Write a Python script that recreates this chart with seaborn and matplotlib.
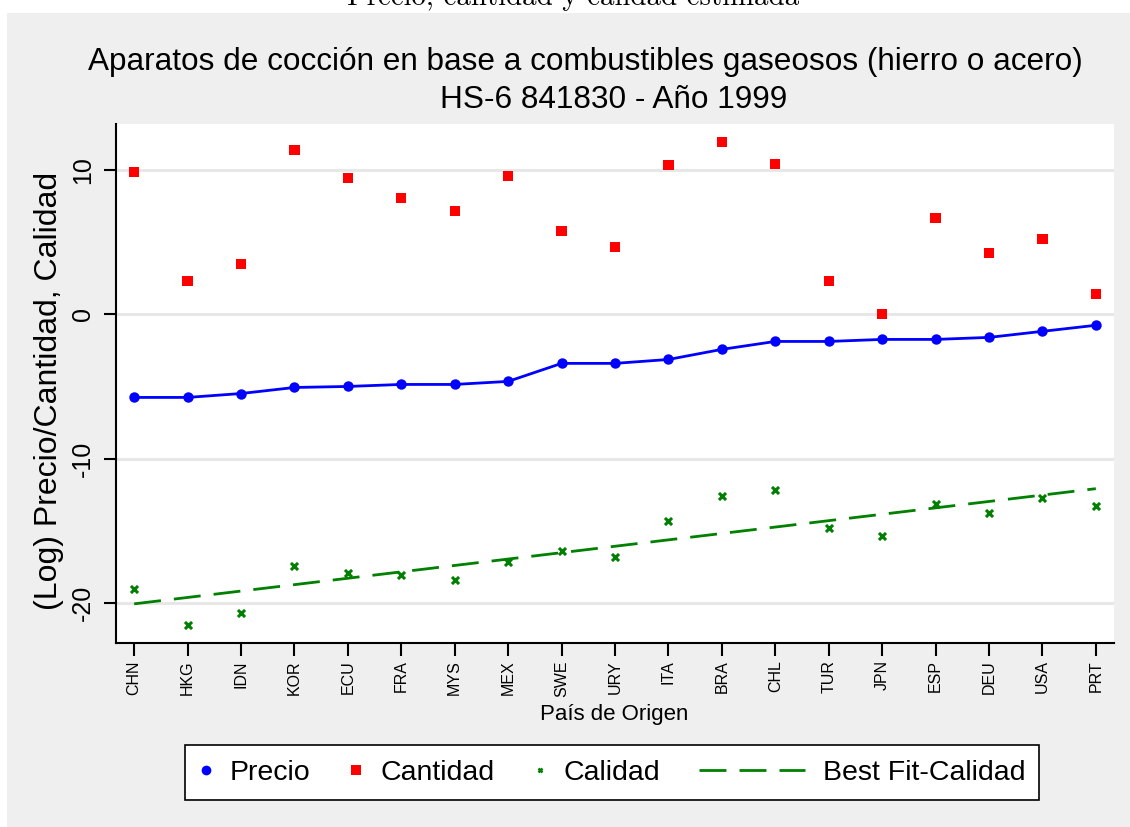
import numpy as np
import pandas as pd
import matplotlib
matplotlib.use("Agg")
import matplotlib.pyplot as plt
import seaborn as sns
from matplotlib.patches import Rectangle
from matplotlib.lines import Line2D
from matplotlib.legend_handler import HandlerLine2D

# Values
paises = ["CHN", "HKG", "IDN", "KOR", "ECU", "FRA", "MYS", "MEX", "SWE", "URY",
          "ITA", "BRA", "CHL", "TUR", "JPN", "ESP", "DEU", "USA", "PRT"]
precio = [-5.76, -5.76, -5.49, -5.07, -5.00, -4.86, -4.86, -4.65, -3.40, -3.40,
          -3.13, -2.43, -1.88, -1.88, -1.74, -1.74, -1.60, -1.18, -0.76]
cantidad = [9.86, 2.29, 3.47, 11.39, 9.44, 8.06, 7.15, 9.58, 5.76, 4.65,
            10.35, 11.94, 10.42, 2.29, 0.00, 6.67, 4.24, 5.21, 1.39]
calidad = [-19.03, -21.53, -20.69, -17.43, -17.92, -18.06, -18.40, -17.15, -16.39, -16.81,
           -14.31, -12.57, -12.15, -14.79, -15.35, -13.13, -13.75, -12.71, -13.26]
y_ticks = [-20, -10, 0, 10]

titulo_1 = "Aparatos de cocción en base a combustibles gaseosos (hierro o acero)"
titulo_2 = "HS-6 841830 - Año 1999"
caption = "Precio, cantidad y calidad estimada"

df = pd.DataFrame({
    "pais": paises,
    "pos": np.arange(len(paises)),
    "precio": precio,
    "cantidad": cantidad,
    "calidad": calidad,
})

sns.set_theme(style="white")
plt.rcParams["font.family"] = ["Liberation Sans", "DejaVu Sans"]
plt.rcParams["axes.unicode_minus"] = False
for key in ["text.color", "axes.labelcolor", "xtick.color", "ytick.color"]:
    plt.rcParams[key] = "black"

W, H = 1130, 827
fig = plt.figure(figsize=(W / 100, H / 100), dpi=100, facecolor="white")

# gray graph region (the strip on top stays white, as in the reference)
fig.add_artist(Rectangle((7 / W, 0), 1, 1 - 13 / H, transform=fig.transFigure,
                         facecolor="#efefef", edgecolor="none", zorder=-1))

ax = fig.add_axes([116 / W, 1 - 643 / H, (1114 - 116) / W, (643 - 124) / H])
ax.set_facecolor("white")

fit_dashes = (9.7, 4.7)

sns.lineplot(data=df, x="pos", y="precio", color="blue", marker="o",
             markersize=7.5, markeredgewidth=0, linewidth=2, ax=ax, legend=False)
sns.scatterplot(data=df, x="pos", y="cantidad", marker="s", s=55, color="red",
                edgecolor="none", ax=ax, legend=False, zorder=3)
sns.scatterplot(data=df, x="pos", y="calidad", marker="x", s=26, color="green",
                linewidth=2.2, ax=ax, legend=False, zorder=3)
sns.regplot(data=df, x="pos", y="calidad", scatter=False, ci=None, color="green",
            line_kws={"linewidth": 2, "dashes": fit_dashes}, ax=ax)

ax.set_xlim(-0.34, 18.34)
ax.set_ylim(-22.78, 13.19)
ax.set_xticks(df["pos"])
ax.set_xticklabels(paises, rotation=90, fontsize=11.5)
ax.set_yticks(y_ticks)
ax.set_yticklabels([str(v) for v in y_ticks], rotation=90, va="center", fontsize=18)
ax.tick_params(axis="both", direction="out", length=9, width=1.5, color="black",
               bottom=True, left=True)
ax.tick_params(axis="y", pad=6)

ax.yaxis.grid(True, color="#e6e6e6", linewidth=2)
ax.xaxis.grid(False)
ax.set_axisbelow(True)
for side in ["top", "right"]:
    ax.spines[side].set_visible(False)
for side in ["left", "bottom"]:
    ax.spines[side].set_color("black")
    ax.spines[side].set_linewidth(1.5)

ax.set_ylabel("(Log) Precio/Cantidad, Calidad", fontsize=23)
ax.yaxis.set_label_coords(-0.052, 0.4855)
ax.set_xlabel("País de Origen", fontsize=16)
ax.xaxis.set_label_coords(0.4995, -0.118)

fig.text(585 / W, 1 - 62 / H, titulo_1, ha="center", va="center", fontsize=22.7)
fig.text(614 / W, 1 - 100 / H, titulo_2, ha="center", va="center", fontsize=22.7)
fig.text(573 / W, 1 - 5 / H, caption, ha="center", va="baseline", fontsize=20.8,
         family="cmr10")


class MarkerKey(HandlerLine2D):
    # narrow key area for marker-only entries
    def legend_artist(self, legend, orig_handle, fontsize, handlebox):
        handlebox.width = 10
        return super().legend_artist(legend, orig_handle, fontsize, handlebox)


h_precio = Line2D([], [], color="blue", marker="o", linestyle="none", markersize=7, mew=0)
h_cant = Line2D([], [], color="red", marker="s", linestyle="none", markersize=7, mew=0)
h_cal = Line2D([], [], color="green", marker="x", linestyle="none", markersize=3.5, mew=1.8)
h_fit = Line2D([], [], color="green", linewidth=2, dashes=fit_dashes)

leg = fig.legend([h_precio, h_cant, h_cal, h_fit],
                 ["Precio", "Cantidad", "Calidad", "Best Fit-Calidad"],
                 handler_map={h_precio: MarkerKey(), h_cant: MarkerKey(), h_cal: MarkerKey()},
                 loc="center", bbox_to_anchor=(612 / W, 1 - 772.5 / H),
                 ncol=4, fontsize=20.5, handlelength=3.75, handletextpad=0.6,
                 columnspacing=1.35, borderpad=0.5, fancybox=False, framealpha=1,
                 facecolor="white", edgecolor="black")
leg.get_frame().set_linewidth(1.2)

fig.savefig("out.png", dpi=100, facecolor=fig.get_facecolor())
